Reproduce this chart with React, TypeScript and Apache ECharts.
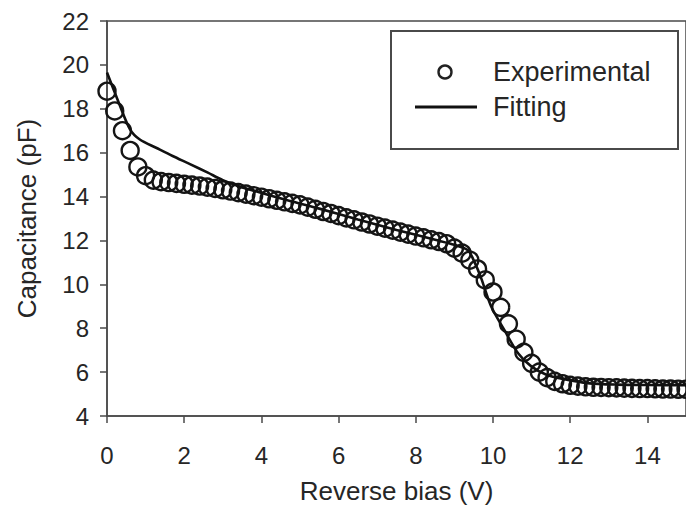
import React, { useEffect, useRef } from "react";
import * as echarts from "echarts";

const biasV = [
  0.0, 0.2, 0.4, 0.6, 0.8, 1.0, 1.2, 1.4, 1.6, 1.8, 2.0, 2.2, 2.4, 2.6, 2.8, 3.0,
  3.2, 3.4, 3.6, 3.8, 4.0, 4.2, 4.4, 4.6, 4.8, 5.0, 5.2, 5.4, 5.6, 5.8, 6.0, 6.2,
  6.4, 6.6, 6.8, 7.0, 7.2, 7.4, 7.6, 7.8, 8.0, 8.2, 8.4, 8.6, 8.8, 9.0, 9.2, 9.4,
  9.6, 9.8, 10.0, 10.2, 10.4, 10.6, 10.8, 11.0, 11.2, 11.4, 11.6, 11.8, 12.0, 12.2,
  12.4, 12.6, 12.8, 13.0, 13.2, 13.4, 13.6, 13.8, 14.0, 14.2, 14.4, 14.6, 14.8, 15.0,
];
const experimentalPF = [
  18.8, 17.9, 17.0, 16.1, 15.35, 14.95, 14.75, 14.68, 14.64, 14.6, 14.56, 14.52, 14.48, 14.43, 14.37, 14.31,
  14.25, 14.18, 14.11, 14.04, 13.97, 13.9, 13.83, 13.76, 13.69, 13.62, 13.52, 13.42, 13.32, 13.23, 13.13, 13.03,
  12.94, 12.84, 12.75, 12.65, 12.56, 12.47, 12.38, 12.29, 12.2, 12.12, 12.03, 11.95, 11.85, 11.65, 11.42, 11.1,
  10.7, 10.2, 9.65, 8.95, 8.2, 7.5, 6.9, 6.4, 6.0, 5.75, 5.58, 5.47, 5.4, 5.36,
  5.33, 5.31, 5.3, 5.29, 5.28, 5.27, 5.26, 5.25, 5.25, 5.24, 5.23, 5.23, 5.22, 5.22,
];
const fitV = [
  0, 0.3, 0.6, 0.85, 1.3, 1.7, 2.15, 2.6, 3.0, 3.45, 3.9, 4.7, 5.5, 6.5, 7.5, 8.5, 9.0,
  9.35, 9.55, 9.7, 9.95, 10.3, 10.65, 11.0, 11.4, 11.85, 12.45, 13.2, 14.0, 15.0,
];
const fitPF = [
  19.65, 18.3, 17.05, 16.6, 16.2, 15.85, 15.48, 15.1, 14.75, 14.45, 14.22, 13.82, 13.45, 12.95, 12.48, 12.03, 11.8,
  11.55, 10.9, 10.25, 9.0, 7.9, 6.86, 6.25, 5.87, 5.68, 5.5, 5.43, 5.41, 5.4,
];
const seriesNames = ["Experimental", "Fitting"];
const xTitle = "Reverse bias (V)";
const yTitle = "Capacitance (pF)";

const FONT = "'Liberation Sans', Arial, sans-serif";
const TXT = "#262626";
const AX = "#4a4a4a";

export default function App() {
  const ref = useRef<HTMLDivElement>(null);
  useEffect(() => {
    if (!ref.current) return;
    const chart = echarts.init(ref.current, null, { renderer: "svg" });
    chart.setOption({
      animation: false,
      backgroundColor: "#fff",
      grid: {
        left: 107,
        top: 21,
        width: 582,
        height: 395,
        show: true,
        borderColor: AX,
        borderWidth: 1.5,
        containLabel: false,
      },
      xAxis: {
        type: "value",
        min: 0,
        max: 15,
        interval: 2,
        name: xTitle,
        nameLocation: "middle",
        nameGap: 62,
        nameTextStyle: { fontFamily: FONT, fontSize: 26, color: TXT },
        axisLine: { show: true, onZero: false, lineStyle: { color: AX, width: 1.5 } },
        axisTick: { show: true, inside: false, length: 7, lineStyle: { color: AX, width: 1.5 } },
        axisLabel: { fontFamily: FONT, fontSize: 24, color: TXT, margin: 27, showMaxLabel: false },
        splitLine: { show: false },
      },
      yAxis: {
        type: "value",
        min: 4,
        max: 22,
        interval: 2,
        name: yTitle,
        nameLocation: "middle",
        nameGap: 67,
        nameTextStyle: { fontFamily: FONT, fontSize: 26, color: TXT },
        axisLine: { show: true, onZero: false, lineStyle: { color: AX, width: 1.5 } },
        axisTick: { show: true, inside: false, length: 7, lineStyle: { color: AX, width: 1.5 } },
        axisLabel: { fontFamily: FONT, fontSize: 24, color: TXT, margin: 18 },
        splitLine: { show: false },
      },
      legend: { show: false },
      series: [
        {
          name: seriesNames[0],
          type: "scatter",
          data: biasV.map((v, i) => [v, experimentalPF[i]]),
          symbol: "circle",
          symbolSize: 17,
          itemStyle: { color: "rgba(0,0,0,0)", borderColor: "#151515", borderWidth: 2.4, opacity: 1 },
          z: 2,
        },
        {
          name: seriesNames[1],
          type: "line",
          data: fitV.map((v, i) => [v, fitPF[i]]),
          symbol: "none",
          smooth: 0.3,
          lineStyle: { color: "#111", width: 2.6 },
          z: 3,
        },
      ],
      graphic: [
        {
          type: "rect",
          shape: { x: 391, y: 31, width: 287, height: 118 },
          style: { fill: "#fff", stroke: AX, lineWidth: 2 },
          z: 10,
        },
        {
          type: "circle",
          shape: { cx: 445, cy: 72, r: 6.5 },
          style: { fill: "none", stroke: "#222", lineWidth: 2.4 },
          z: 11,
        },
        {
          type: "line",
          shape: { x1: 415, y1: 107, x2: 477, y2: 107 },
          style: { stroke: "#111", lineWidth: 3 },
          z: 11,
        },
        {
          type: "text",
          x: 493,
          y: 72,
          style: { text: seriesNames[0], font: `27px ${FONT}`, fill: TXT, verticalAlign: "middle", align: "left" },
          z: 11,
        },
        {
          type: "text",
          x: 493,
          y: 107,
          style: { text: seriesNames[1], font: `27px ${FONT}`, fill: TXT, verticalAlign: "middle", align: "left" },
          z: 11,
        },
      ],
    });
    return () => chart.dispose();
  }, []);
  return (
    <div
      ref={ref}
      style={{ position: "fixed", left: 0, top: 0, width: 686, height: 512, background: "#fff" }}
    />
  );
}
